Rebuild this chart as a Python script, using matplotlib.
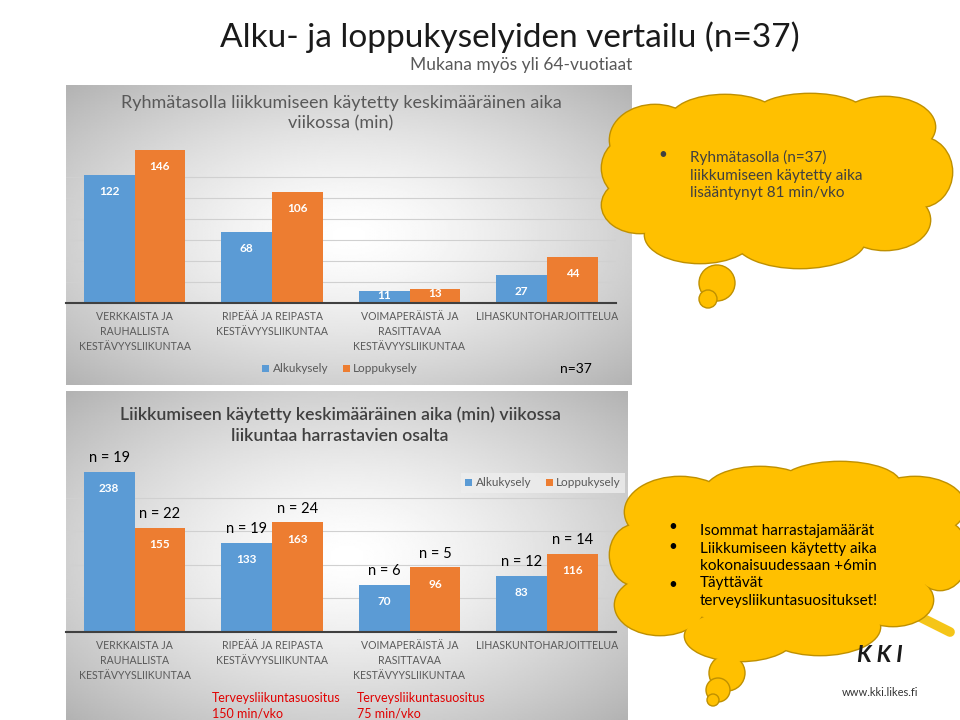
import numpy as np
import matplotlib.pyplot as plt
from matplotlib.patches import Ellipse

plt.rcParams['font.family'] = ['Lato', 'DejaVu Sans']

W, H = 960, 720

# data
categories = ["VERKKAISTA JA\nRAUHALLISTA\nKESTÄVYYSLIIKUNTAA",
              "RIPEÄÄ JA REIPASTA\nKESTÄVYYSLIIKUNTAA",
              "VOIMAPERÄISTÄ JA\nRASITTAVAA\nKESTÄVYYSLIIKUNTAA",
              "LIHASKUNTOHARJOITTELUA"]
series = ["Alkukysely", "Loppukysely"]
top_alku = [122, 68, 11, 27]
top_loppu = [146, 106, 13, 44]
bot_alku = [238, 133, 70, 83]
bot_loppu = [155, 163, 96, 116]
n_alku = [19, 19, 6, 12]
n_loppu = [22, 24, 5, 14]

BLUE = '#5B9BD5'
ORANGE = '#ED7D31'
GRAY = '#595959'
YELLOW = '#FFC000'
YEDGE = '#BF9000'


def rect(x0, y0, x1, y1):
    # pixel box (top-left origin) -> figure fraction
    return [x0 / W, 1 - y1 / H, (x1 - x0) / W, (y1 - y0) / H]


fig = plt.figure(figsize=(9.6, 7.2), dpi=100)

# background canvas with gradient panels
bg = fig.add_axes([0, 0, 1, 1], zorder=0)
yy, xx = np.mgrid[-1:1:200j, -1:1:300j]
r = np.clip(np.sqrt(xx ** 2 + yy ** 2) / np.sqrt(2), 0, 1)
grad = 1 - 0.30 * r ** 1.4
for (x0, y0, x1, y1) in [(66, 85, 632, 385), (66, 391, 628, 720)]:
    bg.imshow(grad, cmap='gray', vmin=0, vmax=1, extent=(x0, x1, y1, y0),
              aspect='auto', interpolation='bilinear')
bg.set_xlim(0, W)
bg.set_ylim(H, 0)
bg.axis('off')

bg.text(510, 37, "Alku- ja loppukyselyiden vertailu (n=37)", fontsize=24,
        ha='center', va='center', color='#1a1a1a')
bg.text(632, 65, "Mukana myös yli 64-vuotiaat", fontsize=12.5,
        ha='right', va='center', color=GRAY)
bg.text(341, 113, "Ryhmätasolla liikkumiseen käytetty keskimääräinen aika\nviikossa (min)",
        fontsize=13, ha='center', va='center', color=GRAY, linespacing=1.3)
bg.text(340, 425, "Liikkumiseen käytetty keskimääräinen aika (min) viikossa\nliikuntaa harrastavien osalta",
        fontsize=12.7, ha='center', va='center', color='#404040', linespacing=1.35,
        fontweight='semibold')
bg.text(576, 369, "n=37", fontsize=10, ha='center', va='center', color='black')
bg.text(212, 706, "Terveysliikuntasuositus\n150 min/vko", fontsize=9,
        ha='left', va='center', color='#E00000', linespacing=1.3)
bg.text(357, 706, "Terveysliikuntasuositus\n75 min/vko", fontsize=9,
        ha='left', va='center', color='#E00000', linespacing=1.3)

x = np.arange(len(categories))
bw = 0.37


def bar_chart(ax, alku, loppu, ymax, gridvals):
    b1 = ax.bar(x - bw / 2, alku, bw, color=BLUE, label=series[0], zorder=2)
    b2 = ax.bar(x + bw / 2, loppu, bw, color=ORANGE, label=series[1], zorder=2)
    for b in (b1, b2):
        for rc in b:
            h = rc.get_height()
            pad = -16 if h > 20 else -7
            ax.annotate(f"{h:g}", (rc.get_x() + rc.get_width() / 2, h),
                        xytext=(0, pad), textcoords='offset points', ha='center',
                        va='bottom', color='white', fontsize=8.5,
                        fontweight='bold', zorder=3)
    ax.set_xlim(-0.5, len(categories) - 0.5)
    ax.set_ylim(0, ymax)
    ax.set_yticks(gridvals)
    ax.set_yticklabels([])
    ax.tick_params(axis='y', length=0)
    ax.grid(axis='y', color='#d0d0d0', lw=0.8, zorder=0)
    ax.set_xticks(x)
    ax.set_xticklabels(categories, fontsize=7.6, color=GRAY, linespacing=1.45)
    ax.tick_params(axis='x', length=0, pad=6)
    ax.set_facecolor('none')
    for s in ['top', 'right', 'left']:
        ax.spines[s].set_visible(False)
    ax.spines['bottom'].set_color('#404040')
    ax.spines['bottom'].set_linewidth(1.5)
    ax.spines['bottom'].set_zorder(4)
    return b1, b2


# top chart
ax1 = fig.add_axes(rect(65.75, 135.3, 615.75, 303), zorder=1)
bar_chart(ax1, top_alku, top_loppu, 160, [20, 40, 60, 80, 100, 120])
ax1.legend(loc='center', bbox_to_anchor=(340 / W, 1 - 369 / H),
           bbox_transform=fig.transFigure, ncol=2, frameon=False,
           fontsize=8.5, labelcolor=GRAY, handlelength=0.6, handleheight=0.6,
           handletextpad=0.3, columnspacing=1.2)

# bottom chart
ax2 = fig.add_axes(rect(65.75, 464, 615.75, 632), zorder=1)
b1, b2 = bar_chart(ax2, bot_alku, bot_loppu, 250, [50, 100, 150, 200])
for bars, ns in ((b1, n_alku), (b2, n_loppu)):
    for rct, n in zip(bars, ns):
        ax2.annotate(f"n = {n}", (rct.get_x() + rct.get_width() / 2, rct.get_height()),
                     xytext=(0, 5), textcoords='offset points', ha='center',
                     va='bottom', fontsize=10.5, color='black', annotation_clip=False)
leg = ax2.legend(loc='center', bbox_to_anchor=(543 / W, 1 - 483 / H),
                 bbox_transform=fig.transFigure, ncol=2, frameon=True,
                 fontsize=8.5, labelcolor=GRAY, handlelength=0.6, handleheight=0.6,
                 handletextpad=0.3, columnspacing=1.2, fancybox=False)
leg.get_frame().set_facecolor('#eeeeee')
leg.get_frame().set_edgecolor('none')
leg.get_frame().set_alpha(0.8)

# clouds overlay
ov = fig.add_axes([0, 0, 1, 1], zorder=2)
ov.set_xlim(0, W)
ov.set_ylim(H, 0)
ov.axis('off')
ov.patch.set_alpha(0)

# KKI logo
ov.plot([910, 950], [612, 632], color='#F5C518', lw=7, solid_capstyle='round', zorder=0)
ov.text(880, 655, "K K I", fontsize=16.5, fontweight='bold', fontstyle='italic',
        ha='center', va='center', color='#1a1a1a')
ov.text(880, 693, "www.kki.likes.fi", fontsize=8, ha='center', va='center',
        color='#333333')


def cloud(lobes, bubbles):
    for (cx, cy, rx, ry) in lobes:
        ov.add_patch(Ellipse((cx, cy), 2 * rx, 2 * ry, fc=YELLOW, ec=YEDGE, lw=2, zorder=1))
    for (cx, cy, rx, ry) in lobes:
        ov.add_patch(Ellipse((cx, cy), 2 * rx, 2 * ry, fc=YELLOW, ec='none', zorder=2))
    for (cx, cy, rr) in bubbles:
        ov.add_patch(Ellipse((cx, cy), 2 * rr, 2 * rr, fc=YELLOW, ec=YEDGE, lw=1, zorder=1))


cloud([(655, 140, 45, 35), (725, 120, 55, 25), (810, 114, 55, 20), (885, 127, 50, 30),
       (920, 172, 32, 35), (885, 220, 45, 30), (800, 240, 65, 28), (700, 235, 55, 28),
       (640, 205, 38, 28), (630, 168, 28, 30), (780, 178, 150, 65)],
      [(717, 283, 18), (708, 299, 9)])

cloud([(680, 512, 55, 35), (760, 492, 55, 25), (840, 484, 60, 22), (915, 507, 50, 30),
       (940, 555, 28, 35), (893, 600, 40, 26), (820, 627, 60, 28), (740, 636, 55, 25),
       (660, 605, 45, 30), (635, 555, 25, 30), (785, 560, 150, 68)],
      [(727, 673, 18), (718, 690, 12), (713, 700, 6)])

ov.text(663, 155, "•", fontsize=11, ha='center', va='center', color='#404040', zorder=5)
ov.text(690, 175, "Ryhmätasolla (n=37)\nliikkumiseen käytetty aika\nlisääntynyt 81 min/vko",
        fontsize=11, ha='left', va='center', color='#404040', linespacing=1.3, zorder=5)

for yb in (527, 547, 585):
    ov.text(673, yb, "•", fontsize=11, ha='center', va='center', color='black', zorder=5)
ov.text(700, 566, "Isommat harrastajamäärät\nLiikkumiseen käytetty aika\nkokonaisuudessaan +6min\nTäyttävät\nterveysliikuntasuositukset!",
        fontsize=11, ha='left', va='center', color='black', linespacing=1.3, zorder=5)

fig.savefig('out.png', dpi=100)
